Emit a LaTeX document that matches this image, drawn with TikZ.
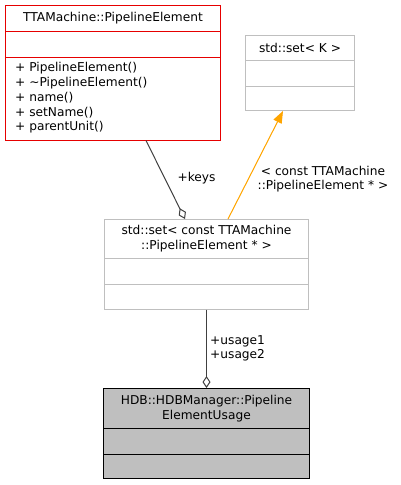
\documentclass[tikz,border=0pt]{standalone}
\usepackage{fontspec}
\setmainfont{DejaVu Sans}
\usetikzlibrary{arrows.meta}
\definecolor{redb}{RGB}{230,0,0}
\definecolor{greyb}{RGB}{191,191,191}
\definecolor{fillg}{RGB}{191,191,191}
\definecolor{edge}{RGB}{64,64,64}
\definecolor{orangeb}{RGB}{255,165,0}
\begin{document}
\begin{tikzpicture}[x=1pt,y=-1pt,
  txt/.style={inner sep=0pt,font=\fontsize{12.2}{14.6}\selectfont},
  redbox/.style={draw=redb,line width=1pt},
  greybox/.style={draw=greyb,line width=1pt},
  blackbox/.style={draw=black,fill=fillg,line width=1pt},
  assoc/.style={draw=edge,line width=1pt,-{Diamond[open,length=12pt,width=8pt]}},
  inherit/.style={draw=orangeb,fill=orangeb,line width=1pt,-{Triangle[length=12pt,width=9pt]}}
]
\fill[white] (0,0) rectangle (400,485);
\useasboundingbox (0,0) rectangle (400,485);
% box 1
\draw[redbox] (5.5,5.5) rectangle (220.5,140.5);
\draw[redbox] (5.5,31.5) -- (220.5,31.5);
\draw[redbox] (5.5,57.5) -- (220.5,57.5);
\node[txt] (t1) at (113,18) {TTAMachine::PipelineElement};
\node[txt,anchor=west] (m1) at (15,68.5) {+ PipelineElement()};
\node[txt,anchor=west] (m2) at (15,83) {+ \textasciitilde PipelineElement()};
\node[txt,anchor=west] (m3) at (15,97.6) {+ name()};
\node[txt,anchor=west] (m4) at (15,112.2) {+ setName()};
\node[txt,anchor=west] (m5) at (15,126.8) {+ parentUnit()};
% box 2
\draw[greybox] (245.5,35.5) rectangle (354.5,110.5);
\draw[greybox] (245.5,60.5) -- (354.5,60.5);
\draw[greybox] (245.5,86.5) -- (354.5,86.5);
\node[txt] (t2) at (300,47.5) {std::set< K >};
% box 3
\draw[greybox] (104.5,219.5) rectangle (308.5,309.5);
\draw[greybox] (104.5,258.5) -- (308.5,258.5);
\draw[greybox] (104.5,284.5) -- (308.5,284.5);
\node[txt,align=center] (t3) at (206.5,238.5) {std::set< const TTAMachine\\::PipelineElement * >};
% box 4
\draw[blackbox] (103.5,388.5) rectangle (309.5,478.5);
\draw[black,line width=1pt] (103.5,428.5) -- (309.5,428.5);
\draw[black,line width=1pt] (103.5,454.5) -- (309.5,454.5);
\node[txt,align=center] (t4) at (206.5,408.5) {HDB::HDBManager::Pipeline\\ElementUsage};
% connectors
\coordinate (k1) at (146,140.5);
\coordinate (k2) at (185,219);
\coordinate (o1) at (228,219);
\coordinate (o2) at (283,111);
\coordinate (u1) at (206.5,309.5);
\coordinate (u2) at (206.5,388);
\draw[assoc] (k1) -- (k2);
\draw[inherit] (o1) -- (o2);
\draw[assoc] (u1) -- (u2);
\node[txt] (lk) at (196.5,178.5) {+keys};
\node[txt,align=center] (lo) at (323,179) {< const TTAMachine\\::PipelineElement * >};
\node[txt,align=left,anchor=west] (lu) at (210,348.5) {+usage1\\+usage2};
\end{tikzpicture}
\end{document}
